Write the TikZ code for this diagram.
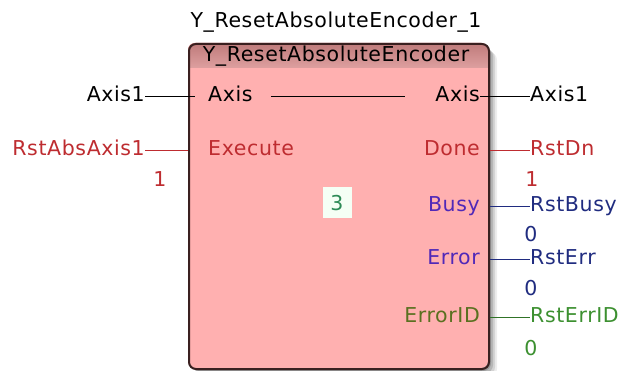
\documentclass[tikz,border=0pt]{standalone}
\usepackage{fontspec}
\setmainfont[LetterSpace=3]{DejaVu Sans}
\definecolor{bodypink}{RGB}{255,176,176}
\definecolor{bandtop}{RGB}{190,122,122}
\definecolor{bandbot}{RGB}{222,160,160}
\definecolor{edge}{RGB}{58,32,32}
\definecolor{redtxt}{RGB}{190,44,48}
\definecolor{pintxt}{RGB}{80,40,184}
\definecolor{vartxt}{RGB}{32,44,128}
\definecolor{olivetxt}{RGB}{90,112,32}
\definecolor{greentxt}{RGB}{60,144,48}
\definecolor{idtxt}{RGB}{46,139,87}
\begin{document}
\begin{tikzpicture}[x=1pt,y=-1pt,
  font=\fontsize{20.5}{24}\selectfont,
  lbl/.style={inner sep=0pt,text height=15pt,text depth=4pt},
  wire/.style={line width=1.5pt}]
\useasboundingbox (0,0) rectangle (621,371);
\fill[white] (0,0) rectangle (621,371);

% drop shadow of the function block
\foreach \d/\o in {9/.07,7/.10,5/.14,3/.18}
  \fill[black,opacity=\o,rounded corners=8] (188+\d,43+\d) rectangle (488+\d,368+\d);

% function block body and title band
\fill[bodypink,rounded corners=7] (188,43) rectangle (488,368);
\begin{scope}
  \clip[rounded corners=7] (188,43) rectangle (488,368);
  \shade[top color=bandtop,bottom color=bandbot] (188,43) rectangle (488,68);
\end{scope}
\node[draw=edge,line width=2pt,rounded corners=7,minimum width=300pt,minimum height=325pt,
      anchor=north west,inner sep=0pt] (fb) at (188,43) {};

% instance name and block type
\node[lbl,anchor=base] (inst) at (336,28) {Y\_ResetAbsoluteEncoder\_1};
\node[lbl,anchor=base] (ttl) at (336,62) {Y\_ResetAbsoluteEncoder};

% Axis in/out
\node[lbl,anchor=base east] (vAxL) at (145,102) {Axis1};
\node[lbl,anchor=base west] (pAxL) at (208,102) {Axis};
\node[lbl,anchor=base east] (pAxR) at (480,102) {Axis};
\node[lbl,anchor=base west] (vAxR) at (530,102) {Axis1};
\draw[wire] (vAxL.east) -- ([xshift=-13pt]pAxL.west |- vAxL.east);
\draw[wire] ([xshift=18pt]pAxL.east) -- ([xshift=-30pt]pAxR.west |- pAxL.east);
\draw[wire] (pAxR.east) -- (vAxR.west |- pAxR.east);

% Execute input
\node[lbl,anchor=base east,text=redtxt] (vExe) at (145,156) {RstAbsAxis1};
\node[lbl,anchor=base west,text=redtxt] (pExe) at (208,156) {Execute};
\node[lbl,anchor=base,text=redtxt] (sExe) at (160,187) {1};
\coordinate (eExe) at (fb.west |- vExe.east);
\draw[wire,redtxt] (vExe.east) -- (eExe);

% Done output
\node[lbl,anchor=base east,text=redtxt] (pDone) at (480,156) {Done};
\node[lbl,anchor=base west,text=redtxt] (vDone) at (530,156) {RstDn};
\node[lbl,anchor=base,text=redtxt] (sDone) at (532,187) {1};
\draw[wire,redtxt] (fb.east |- vDone.west) -- (vDone.west);

% Busy output
\node[lbl,anchor=base east,text=pintxt] (pBusy) at (480,212) {Busy};
\node[lbl,anchor=base west,text=vartxt] (vBusy) at (530,212) {RstBusy};
\node[lbl,anchor=base,text=vartxt] (sBusy) at (531,242) {0};
\draw[wire,vartxt] (fb.east |- vBusy.west) -- (vBusy.west);

% Error output
\node[lbl,anchor=base east,text=pintxt] (pErr) at (480,265) {Error};
\node[lbl,anchor=base west,text=vartxt] (vErr) at (530,265) {RstErr};
\node[lbl,anchor=base,text=vartxt] (sErr) at (531,295) {0};
\draw[wire,vartxt] (fb.east |- vErr.west) -- (vErr.west);

% ErrorID output
\node[lbl,anchor=base east,text=olivetxt] (pEid) at (480,323) {ErrorID};
\node[lbl,anchor=base west,text=greentxt] (vEid) at (530,323) {RstErrID};
\node[lbl,anchor=base,text=greentxt] (sEid) at (531,355) {0};
\draw[wire,greentxt!80!black] (fb.east |- vEid.west) -- (vEid.west);

% execution order number
\node[fill=green!4,text=idtxt,minimum width=29pt,minimum height=31pt,inner sep=0pt] (ord) at (337,203) {3};
\end{tikzpicture}
\end{document}
